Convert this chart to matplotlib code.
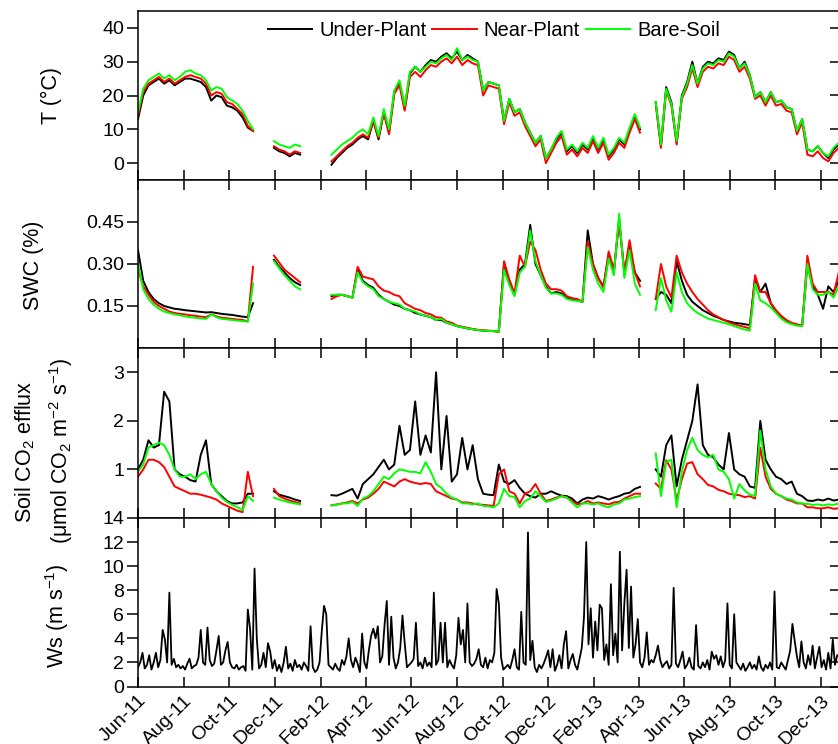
import numpy as np
import pandas as pd
import matplotlib
matplotlib.use('Agg')
import matplotlib.pyplot as plt
import matplotlib.dates as mdates

nan = np.nan

# weekly samples from 1 Jun 2011 (135 weeks)
dates = pd.date_range('2011-06-01', periods=135, freq='7D')
# wind speed every 3 days
ws_dates = pd.date_range('2011-06-01', periods=313, freq='3D')

# Soil temperature (deg C)
t_under = [13, 20, 23, 24, 25, 23.5, 24.5, 23, 24, 25,
           25, 24.5, 24, 22.5, 18.5, 20, 19.5, 17, 16.5, 15.5,
           13.5, 10.5, 9.5, nan, nan, nan, 4.5, 3.5, 3, 2,
           3, 2.5, nan, nan, nan, nan, nan, -0.5, 1.5, 3,
           4.5, 5.5, 7, 8, 7, 12.5, 7, 15, 9, 21,
           24, 16, 26.5, 28.5, 27, 29, 30.5, 30, 31.5, 32.5,
           31, 33, 30.5, 32, 31, 30, 21.5, 24, 23.5, 23,
           12.5, 19, 15, 16, 12, 9, 6, 8, 1.5, 4,
           7, 9, 3.5, 5, 3, 5.5, 4, 7.5, 4, 7,
           2, 4, 7, 5.5, 10, 14, 10, nan, nan, 18,
           5, 22.5, 18, 6, 20, 24, 30, 23.5, 28.5, 30,
           29.5, 31, 30.5, 33, 32, 28, 30, 26, 19.5, 21,
           18, 21, 18, 18.5, 16.5, 16, 9.5, 13, 4, 3.5,
           5, 3, 1.5, 4, 5.5]
t_near = [14, 21, 23.5, 24.5, 25.5, 24, 25, 23.5, 24.5, 25.5,
          26, 25.5, 25, 23.5, 20, 21, 20.5, 18, 17.5, 16,
          14.5, 11, 9.5, nan, nan, nan, 5, 4, 3.5, 2.5,
          3.5, 3, nan, nan, nan, nan, nan, 0.5, 2, 3.5,
          5, 6, 7.5, 8.5, 7.5, 12.5, 7.5, 15, 8.5, 20.5,
          23, 15.5, 25.5, 27, 25.5, 27.5, 29, 28.5, 30, 31,
          29.5, 31.5, 29, 30.5, 29.5, 29, 20, 23, 22.5, 22,
          11.5, 18, 14, 15, 11, 8, 5, 7, 0, 3,
          6, 8, 2.5, 4, 2, 4.5, 3, 6.5, 3, 6,
          1, 3, 6, 4.5, 9, 13, 9, nan, nan, 17.5,
          4.5, 21.5, 17, 5.5, 19, 22.5, 28, 22.5, 27, 28.5,
          28, 29.5, 29, 31.5, 30.5, 27, 28.5, 25, 19, 20,
          17, 20, 17, 17.5, 15.5, 15, 8.5, 12, 2.5, 2,
          3.5, 1.5, 0.5, 3, 4.5]
t_bare = [15, 22, 24.5, 25.5, 26.5, 25, 26, 24.5, 25.5, 27,
          27.5, 26.5, 26, 24.5, 21.5, 22.5, 22, 19.5, 18.5, 17.5,
          15.5, 12.5, 10, nan, nan, nan, 6.5, 5.5, 5, 4.5,
          5.5, 5, nan, nan, nan, nan, nan, 2.5, 4, 5.5,
          6.5, 7.5, 9, 10, 8.5, 13.5, 8, 16, 10, 21.5,
          24.5, 17, 27, 28.5, 27, 28.5, 30, 29.5, 31, 32,
          30.5, 34, 30.5, 31.5, 30.5, 30, 21.5, 24, 23.5, 23,
          12.5, 19, 15, 16, 12, 9, 6, 8, 1.5, 4,
          7.5, 9.5, 4, 5.5, 3.5, 6, 4.5, 8, 4.5, 7.5,
          2.5, 4.5, 7.5, 6, 10.5, 14.5, 10.5, nan, nan, 18,
          5.5, 22, 17.5, 6.5, 19.5, 23.5, 29, 23.5, 28, 29.5,
          29, 30.5, 30, 32.5, 31.5, 28, 29.5, 26, 19.5, 21,
          18, 21, 18, 18.5, 16.5, 16, 9.5, 13, 4, 3.5,
          5, 3, 2, 4.5, 6]

# Soil water content
swc_under = [0.35, 0.24, 0.20, 0.175, 0.16, 0.15, 0.145, 0.14, 0.138, 0.135,
             0.133, 0.131, 0.129, 0.127, 0.128, 0.125, 0.122, 0.12, 0.118, 0.115,
             0.112, 0.11, 0.16, nan, nan, nan, 0.315, 0.29, 0.27, 0.25,
             0.235, 0.225, nan, nan, nan, nan, nan, 0.185, 0.19, 0.19,
             0.185, 0.18, 0.28, 0.24, 0.225, 0.215, 0.19, 0.175, 0.165, 0.155,
             0.15, 0.14, 0.135, 0.125, 0.12, 0.115, 0.11, 0.1, 0.1, 0.09,
             0.085, 0.078, 0.074, 0.07, 0.067, 0.064, 0.062, 0.061, 0.06, 0.058,
             0.3, 0.23, 0.19, 0.28, 0.3, 0.44, 0.3, 0.26, 0.22, 0.195,
             0.2, 0.195, 0.18, 0.175, 0.17, 0.165, 0.42, 0.3, 0.25, 0.22,
             0.33, 0.27, 0.46, 0.27, 0.36, 0.27, 0.24, nan, nan, 0.175,
             0.2, 0.19, 0.16, 0.31, 0.24, 0.19, 0.165, 0.15, 0.135, 0.125,
             0.115, 0.108, 0.1, 0.095, 0.09, 0.088, 0.085, 0.082, 0.25, 0.2,
             0.23, 0.16, 0.13, 0.11, 0.095, 0.087, 0.082, 0.08, 0.3, 0.22,
             0.19, 0.14, 0.22, 0.2, 0.24]
swc_near = [0.28, 0.22, 0.19, 0.165, 0.15, 0.14, 0.13, 0.125, 0.122, 0.12,
            0.117, 0.115, 0.112, 0.11, 0.12, 0.113, 0.108, 0.106, 0.104, 0.102,
            0.1, 0.095, 0.29, nan, nan, nan, 0.33, 0.305, 0.28, 0.265,
            0.25, 0.235, nan, nan, nan, nan, nan, 0.175, 0.185, 0.19,
            0.185, 0.18, 0.29, 0.255, 0.25, 0.245, 0.22, 0.205, 0.2, 0.19,
            0.185, 0.16, 0.15, 0.14, 0.135, 0.125, 0.12, 0.11, 0.108, 0.095,
            0.09, 0.08, 0.076, 0.072, 0.068, 0.065, 0.063, 0.062, 0.061, 0.059,
            0.31, 0.245, 0.195, 0.33, 0.29, 0.38, 0.35, 0.28, 0.23, 0.21,
            0.21, 0.205, 0.185, 0.178, 0.175, 0.165, 0.38, 0.3, 0.25, 0.215,
            0.345, 0.28, 0.45, 0.27, 0.385, 0.27, 0.22, nan, nan, 0.175,
            0.3, 0.22, 0.18, 0.33, 0.27, 0.23, 0.2, 0.175, 0.155, 0.135,
            0.12, 0.11, 0.1, 0.092, 0.085, 0.08, 0.075, 0.07, 0.26, 0.2,
            0.2, 0.16, 0.135, 0.115, 0.1, 0.09, 0.085, 0.078, 0.33, 0.23,
            0.2, 0.2, 0.2, 0.19, 0.27]
swc_bare = [0.30, 0.21, 0.175, 0.155, 0.14, 0.13, 0.125, 0.12, 0.117, 0.113,
            0.11, 0.108, 0.106, 0.104, 0.12, 0.11, 0.104, 0.102, 0.1, 0.098,
            0.096, 0.094, 0.23, nan, nan, nan, 0.31, 0.285, 0.26, 0.24,
            0.22, 0.21, nan, nan, nan, nan, nan, 0.19, 0.19, 0.19,
            0.185, 0.18, 0.27, 0.235, 0.22, 0.21, 0.185, 0.175, 0.165, 0.16,
            0.155, 0.14, 0.135, 0.13, 0.12, 0.115, 0.11, 0.1, 0.104, 0.09,
            0.085, 0.078, 0.074, 0.07, 0.067, 0.064, 0.062, 0.061, 0.06, 0.058,
            0.28, 0.225, 0.185, 0.27, 0.29, 0.42, 0.31, 0.26, 0.215, 0.195,
            0.195, 0.19, 0.175, 0.17, 0.168, 0.165, 0.36, 0.28, 0.23, 0.2,
            0.32, 0.26, 0.48, 0.25, 0.35, 0.23, 0.19, nan, nan, 0.135,
            0.25, 0.17, 0.13, 0.27, 0.2, 0.16, 0.14, 0.125, 0.115, 0.105,
            0.1, 0.095, 0.09, 0.085, 0.078, 0.072, 0.066, 0.062, 0.23, 0.17,
            0.16, 0.145, 0.125, 0.105, 0.092, 0.085, 0.08, 0.078, 0.3, 0.21,
            0.19, 0.19, 0.2, 0.18, 0.22]

# Soil CO2 efflux
co2_under = [1.0, 1.2, 1.6, 1.45, 1.5, 2.6, 2.4, 1.0, 0.9, 0.85,
             0.78, 0.75, 1.3, 1.6, 0.7, 0.55, 0.45, 0.35, 0.3, 0.3,
             0.32, 0.5, 0.5, nan, nan, nan, 0.55, 0.48, 0.45, 0.42,
             0.38, 0.35, nan, nan, nan, nan, nan, 0.47, 0.46, 0.5,
             0.55, 0.6, 0.4, 0.7, 0.8, 0.9, 1.05, 1.2, 1.0, 1.1,
             1.9, 1.3, 1.4, 2.4, 1.3, 1.7, 1.35, 3.0, 1.0, 2.1,
             0.75, 0.9, 1.65, 1.0, 1.5, 0.8, 0.5, 0.48, 0.47, 1.1,
             0.75, 0.7, 0.78, 0.62, 0.5, 0.45, 0.42, 0.5, 0.5, 0.55,
             0.5, 0.46, 0.45, 0.4, 0.3, 0.38, 0.42, 0.4, 0.45, 0.42,
             0.38, 0.42, 0.45, 0.5, 0.52, 0.6, 0.64, nan, nan, 1.0,
             0.85, 1.5, 1.7, 0.65, 1.2, 1.6, 2.0, 2.75, 1.5, 1.3,
             1.25, 1.1, 1.0, 1.75, 1.0, 0.9, 0.85, 0.65, 0.62, 2.0,
             1.2, 1.0, 0.85, 0.8, 0.7, 0.75, 0.5, 0.45, 0.36, 0.35,
             0.38, 0.36, 0.4, 0.36, 0.38]
co2_near = [0.85, 1.0, 1.2, 1.2, 1.15, 1.05, 0.85, 0.65, 0.6, 0.55,
            0.5, 0.5, 0.48, 0.45, 0.42, 0.38, 0.3, 0.25, 0.2, 0.15,
            0.12, 0.95, 0.45, nan, nan, nan, 0.6, 0.45, 0.4, 0.36,
            0.33, 0.3, nan, nan, nan, nan, nan, 0.26, 0.28, 0.3,
            0.32, 0.35, 0.3, 0.38, 0.42, 0.5, 0.6, 0.75, 0.7, 0.65,
            0.75, 0.8, 0.75, 0.72, 0.7, 0.72, 0.7, 0.55, 0.5, 0.45,
            0.4, 0.38, 0.32, 0.32, 0.3, 0.28, 0.27, 0.26, 0.25, 0.9,
            1.0, 0.55, 0.5, 0.3, 0.5, 0.55, 0.7, 0.5, 0.35, 0.38,
            0.42, 0.45, 0.42, 0.35, 0.28, 0.3, 0.35, 0.3, 0.32, 0.3,
            0.28, 0.32, 0.33, 0.4, 0.45, 0.5, 0.5, nan, nan, 0.71,
            0.6, 1.19, 1.0, 0.36, 0.8, 1.12, 1.15, 0.9, 0.8, 0.68,
            0.65, 0.58, 0.55, 0.5, 0.48, 0.47, 0.43, 0.45, 0.4, 1.45,
            0.85, 0.6, 0.5, 0.45, 0.38, 0.35, 0.3, 0.3, 0.22, 0.22,
            0.2, 0.2, 0.22, 0.19, 0.2]
co2_bare = [0.95, 1.1, 1.45, 1.5, 1.55, 1.5, 1.3, 1.0, 0.85, 0.85,
            0.9, 0.8, 0.9, 0.95, 0.7, 0.55, 0.42, 0.33, 0.27, 0.22,
            0.16, 0.45, 0.35, nan, nan, nan, 0.42, 0.38, 0.35, 0.32,
            0.3, 0.28, nan, nan, nan, nan, nan, 0.26, 0.27, 0.3,
            0.3, 0.33, 0.25, 0.4, 0.45, 0.55, 0.7, 0.85, 0.8, 0.92,
            1.0, 0.98, 0.95, 0.95, 0.92, 1.15, 0.95, 0.7, 0.62, 0.5,
            0.42, 0.38, 0.3, 0.3, 0.28, 0.3, 0.25, 0.24, 0.22, 0.3,
            0.6, 0.45, 0.43, 0.22, 0.35, 0.4, 0.55, 0.45, 0.33, 0.36,
            0.4, 0.45, 0.42, 0.32, 0.22, 0.3, 0.3, 0.28, 0.3, 0.25,
            0.22, 0.28, 0.3, 0.38, 0.4, 0.43, 0.45, nan, nan, 1.33,
            0.45, 1.16, 1.2, 0.22, 0.95, 1.4, 1.65, 1.4, 1.3, 1.25,
            1.3, 1.0, 0.95, 0.8, 0.4, 0.7, 0.57, 0.48, 0.45, 1.8,
            1.0, 0.65, 0.5, 0.45, 0.4, 0.38, 0.32, 0.3, 0.29, 0.27,
            0.28, 0.26, 0.28, 0.27, 0.3]

# Wind speed (m/s)
ws = [1.6, 2.0, 2.8, 1.5, 1.8, 2.6, 1.4, 2.0, 2.8, 1.6,
      2.2, 4.7, 3.9, 2.0, 7.8, 1.8, 2.3, 1.6, 1.8, 1.5,
      1.7, 1.4, 1.9, 2.3, 1.5, 1.7, 1.8, 2.4, 4.7, 2.0,
      1.8, 4.9, 2.2, 1.7, 1.9, 3.0, 4.2, 1.8, 2.0, 3.0,
      3.7, 2.0, 1.6, 1.5, 1.8, 1.4, 1.6, 1.7, 1.3, 6.4,
      4.8, 1.4, 9.8, 4.0, 1.5, 1.8, 2.8, 1.6, 3.6, 2.9,
      1.5, 2.2, 1.3, 1.8, 1.2, 2.0, 3.3, 1.5, 1.9, 1.3,
      2.2, 1.6, 1.8, 1.4, 2.0, 1.7, 1.3, 5.0, 1.6, 1.2,
      1.4, 2.0, 4.6, 6.7, 6.0, 1.8, 1.6, 1.4, 1.9, 1.5,
      1.3, 2.2, 1.8, 2.5, 4.0, 2.2, 1.6, 2.4, 1.9, 1.2,
      4.4, 2.0, 1.5, 3.0, 4.2, 4.8, 4.0, 5.0, 2.0, 2.5,
      5.1, 7.1, 1.8, 5.8, 2.4, 1.5, 2.0, 3.2, 5.9, 3.6,
      1.6, 1.8, 2.0, 2.3, 5.3, 1.7, 2.0, 1.5, 2.4, 1.7,
      2.0, 1.6, 7.8, 1.8, 2.2, 5.3, 2.0, 5.3, 1.6, 2.2,
      1.8, 1.5, 2.6, 5.7, 3.5, 4.7, 2.0, 6.9, 2.0, 1.7,
      1.9, 2.3, 3.1, 1.8, 1.6, 2.4, 1.5, 2.2, 2.0, 2.8,
      8.1, 6.9, 2.4, 1.4, 1.6, 1.8, 1.5, 2.2, 3.1, 1.6,
      1.4, 6.2, 2.0, 1.8, 12.8, 2.2, 3.8, 1.6, 1.2, 1.8,
      1.5, 1.9, 2.4, 3.0, 1.6, 3.1, 1.3, 1.8, 2.6, 1.5,
      3.5, 4.6, 1.5, 2.2, 2.7, 1.8, 1.4, 2.3, 3.2, 5.8,
      12.0, 3.5, 6.5, 2.4, 5.4, 3.0, 6.8, 6.5, 2.2, 3.5,
      1.8, 8.5, 2.6, 4.4, 2.0, 11.2, 3.0, 6.9, 9.7, 3.2,
      8.3, 2.4, 3.5, 5.6, 2.0, 1.6, 2.4, 4.5, 1.8, 2.2,
      2.0, 2.6, 3.4, 2.2, 1.6, 1.9, 2.1, 1.5, 1.8, 8.2,
      1.9, 1.6, 2.2, 2.9, 1.5, 1.8, 2.4, 1.6, 1.4, 5.1,
      1.7, 1.5, 2.0, 1.6, 2.2, 1.4, 2.9, 2.3, 2.6, 1.8,
      2.5, 1.6, 2.2, 6.9, 1.8, 1.5, 6.0, 2.0, 1.7, 1.4,
      1.9, 1.3, 1.6, 2.0, 1.5, 1.8, 1.4, 2.5, 1.6, 1.3,
      1.8, 1.5, 2.0, 1.4, 7.9, 1.6, 1.5, 2.0, 1.7, 1.4,
      2.2, 3.0, 5.2, 3.8, 2.5, 1.6, 3.75, 2.0, 1.5, 2.6,
      1.8, 3.4, 1.5, 2.4, 3.3, 1.6, 2.2, 1.4, 2.8, 1.5,
      3.9, 1.8, 2.6]

labels = ['Under-Plant', 'Near-Plant', 'Bare-Soil']
colors = ['black', '#ff0000', '#00ff00']

plt.rcParams['font.family'] = ['Liberation Sans', 'DejaVu Sans']
plt.rcParams['mathtext.default'] = 'regular'
plt.rcParams['axes.linewidth'] = 1.1

fig = plt.figure(figsize=(8.38, 7.44), dpi=100)
W, H = 838.0, 744.0
left, right = 138, 841
bounds = [(11, 180), (180, 348), (348, 518), (518, 686.5)]
axes = [fig.add_axes([left / W, (H - b) / H, (right - left) / W, (b - t) / H])
        for t, b in bounds]

groups = [(t_under, t_near, t_bare), (swc_under, swc_near, swc_bare),
          (co2_under, co2_near, co2_bare)]
for ax, grp in zip(axes[:3], groups):
    for y, c, lab in zip(grp, colors, labels):
        ax.plot(dates, y, color=c, lw=1.4, label=lab)
axes[3].plot(ws_dates, ws, color='black', lw=1.3)

ylims = [(-5, 45), (0, 0.6), (0, 3.5), (0, 14)]
yticks = [[0, 10, 20, 30, 40], [0.15, 0.30, 0.45], [1, 2, 3],
          [0, 2, 4, 6, 8, 10, 12, 14]]
ytl = [['0', '10', '20', '30', '40'], ['0.15', '0.30', '0.45'], ['1', '2', '3'],
       ['0', '2', '4', '6', '8', '10', '12', '14']]

x0 = pd.Timestamp('2011-06-01')
x1 = x0 + pd.Timedelta(days=941)
for i, ax in enumerate(axes):
    ax.set_xlim(x0, x1)
    ax.set_ylim(*ylims[i])
    ax.set_yticks(yticks[i])
    ax.set_yticklabels(ytl[i])
    ax.xaxis.set_major_locator(mdates.MonthLocator(bymonth=[2, 4, 6, 8, 10, 12]))
    ax.xaxis.set_major_formatter(mdates.DateFormatter('%b-%y'))
    ax.tick_params(axis='x', direction='in', length=7.5, width=1.1,
                   top=(i > 0), bottom=True, labelbottom=(i == 3),
                   labelsize=14, pad=4)
    ax.tick_params(axis='y', direction='out', length=8, width=1.1,
                   labelsize=14, pad=2)
    sec = ax.secondary_yaxis('right')
    sec.set_yticks(yticks[i])
    sec.tick_params(axis='y', direction='in', length=8, width=1.1,
                    labelright=False)

for lab in axes[3].get_xticklabels():
    lab.set_rotation(45)
    lab.set_ha('right')
    lab.set_va('top')
    lab.set_rotation_mode('anchor')

axes[0].legend(loc='center', bbox_to_anchor=(494 / W, (H - 31) / H),
               bbox_transform=fig.transFigure, ncol=3, frameon=False,
               fontsize=14.5, handlelength=2.2, handletextpad=0.35,
               columnspacing=0.3, borderpad=0, borderaxespad=0)

ylab = dict(rotation=90, ha='center', va='center', fontsize=15.5)
fig.text(51 / W, (H - 95) / H, 'T (°C)', **ylab)
fig.text(33 / W, (H - 265) / H, 'SWC (%)', **ylab)
fig.text(25 / W, (H - 452) / H, 'Soil CO$_2$ efflux', **ylab)
fig.text(61 / W, (H - 451) / H, '(μmol CO$_2$ m$^{-2}$ s$^{-1}$)', **ylab)
fig.text(57 / W, (H - 616) / H, 'Ws (m s$^{-1}$)', **ylab)

fig.savefig('out.png', dpi=100)
